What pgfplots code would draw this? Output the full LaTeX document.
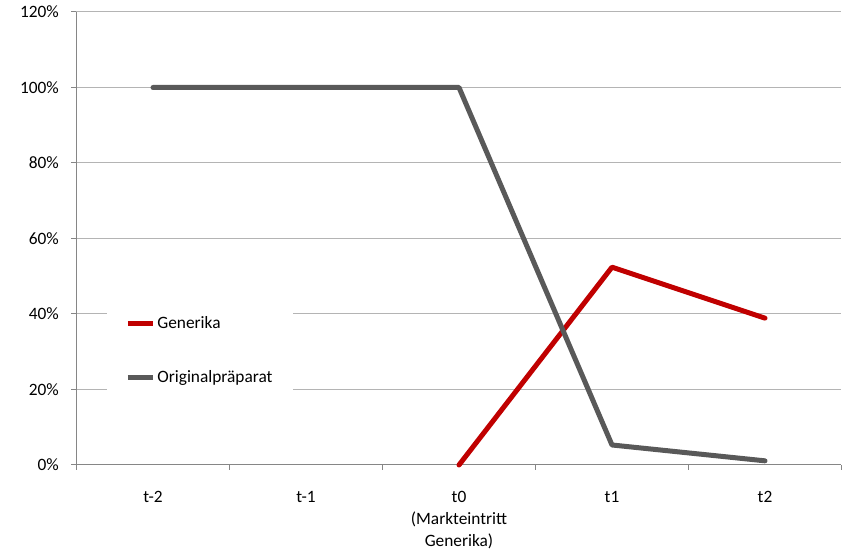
\documentclass[border=0pt]{standalone}
\usepackage{fontspec}
\setmainfont{Carlito}
\usepackage{pgfplots}
\pgfplotsset{compat=1.18}
\definecolor{genred}{HTML}{C00000}
\definecolor{origgray}{HTML}{595959}
\definecolor{gridgray}{HTML}{B4B4B4}
\definecolor{axisgray}{HTML}{868686}

\begin{document}
\begin{tikzpicture}
% 1px = 0.75pt; the canvas is 844 x 552 px
\useasboundingbox (0pt,0pt) rectangle (633pt,414pt);
\begin{axis}[
  at={(57.375pt,65.25pt)}, anchor=south west,
  width=573.75pt, height=339.75pt, scale only axis,
  xmin=-0.5, xmax=4.5, ymin=0, ymax=120,
  clip=false,
  axis x line*=bottom, axis y line*=left,
  axis line style={axisgray, line width=0.75pt},
  font=\fontsize{13}{16.5}\selectfont,
  /pgf/number format/assume math mode=true,
  ytick={0,20,...,120},
  yticklabel={\pgfmathprintnumber{\tick}\%},
  ymajorgrids,
  grid style={gridgray, line width=0.75pt},
  xtick={0,...,4},
  xticklabels={t-2,t-1,{t0\\(Markteintritt\\Generika)},t1,t2},
  xticklabel style={align=center, anchor=north, yshift=-12.5pt},
  yticklabel style={anchor=east, xshift=-6pt},
  minor xtick={-0.5,0.5,...,4.5},
  tick align=outside,
  major tick length=3.75pt,
  minor tick length=3.75pt,
  major x tick style={draw=none},
  tick style={axisgray, line width=0.75pt},
  legend cell align=left,
  legend style={at={(rel axis cs:0.04,0.3775)}, anchor=north west,
    draw=none, fill=white, inner xsep=13.5pt, inner ysep=15.5pt,
    row sep=26.5pt, font=\fontsize{13}{16.5}\selectfont,
    nodes={inner sep=1.5pt}},
  legend image code/.code={\draw[#1, line cap=butt] (0pt,0pt) -- (18.75pt,0pt);},
]
\addplot[genred, line width=3.75pt, line cap=round, line join=round]
  coordinates {(2,0) (3,52.4) (4,38.9)};
\addlegendentry{Generika}
\addplot[origgray, line width=3.75pt, line cap=round, line join=round]
  coordinates {(0,100) (1,100) (2,100) (3,5.3) (4,1.1)};
\addlegendentry{Originalpräparat}
\end{axis}
\end{tikzpicture}
\end{document}
